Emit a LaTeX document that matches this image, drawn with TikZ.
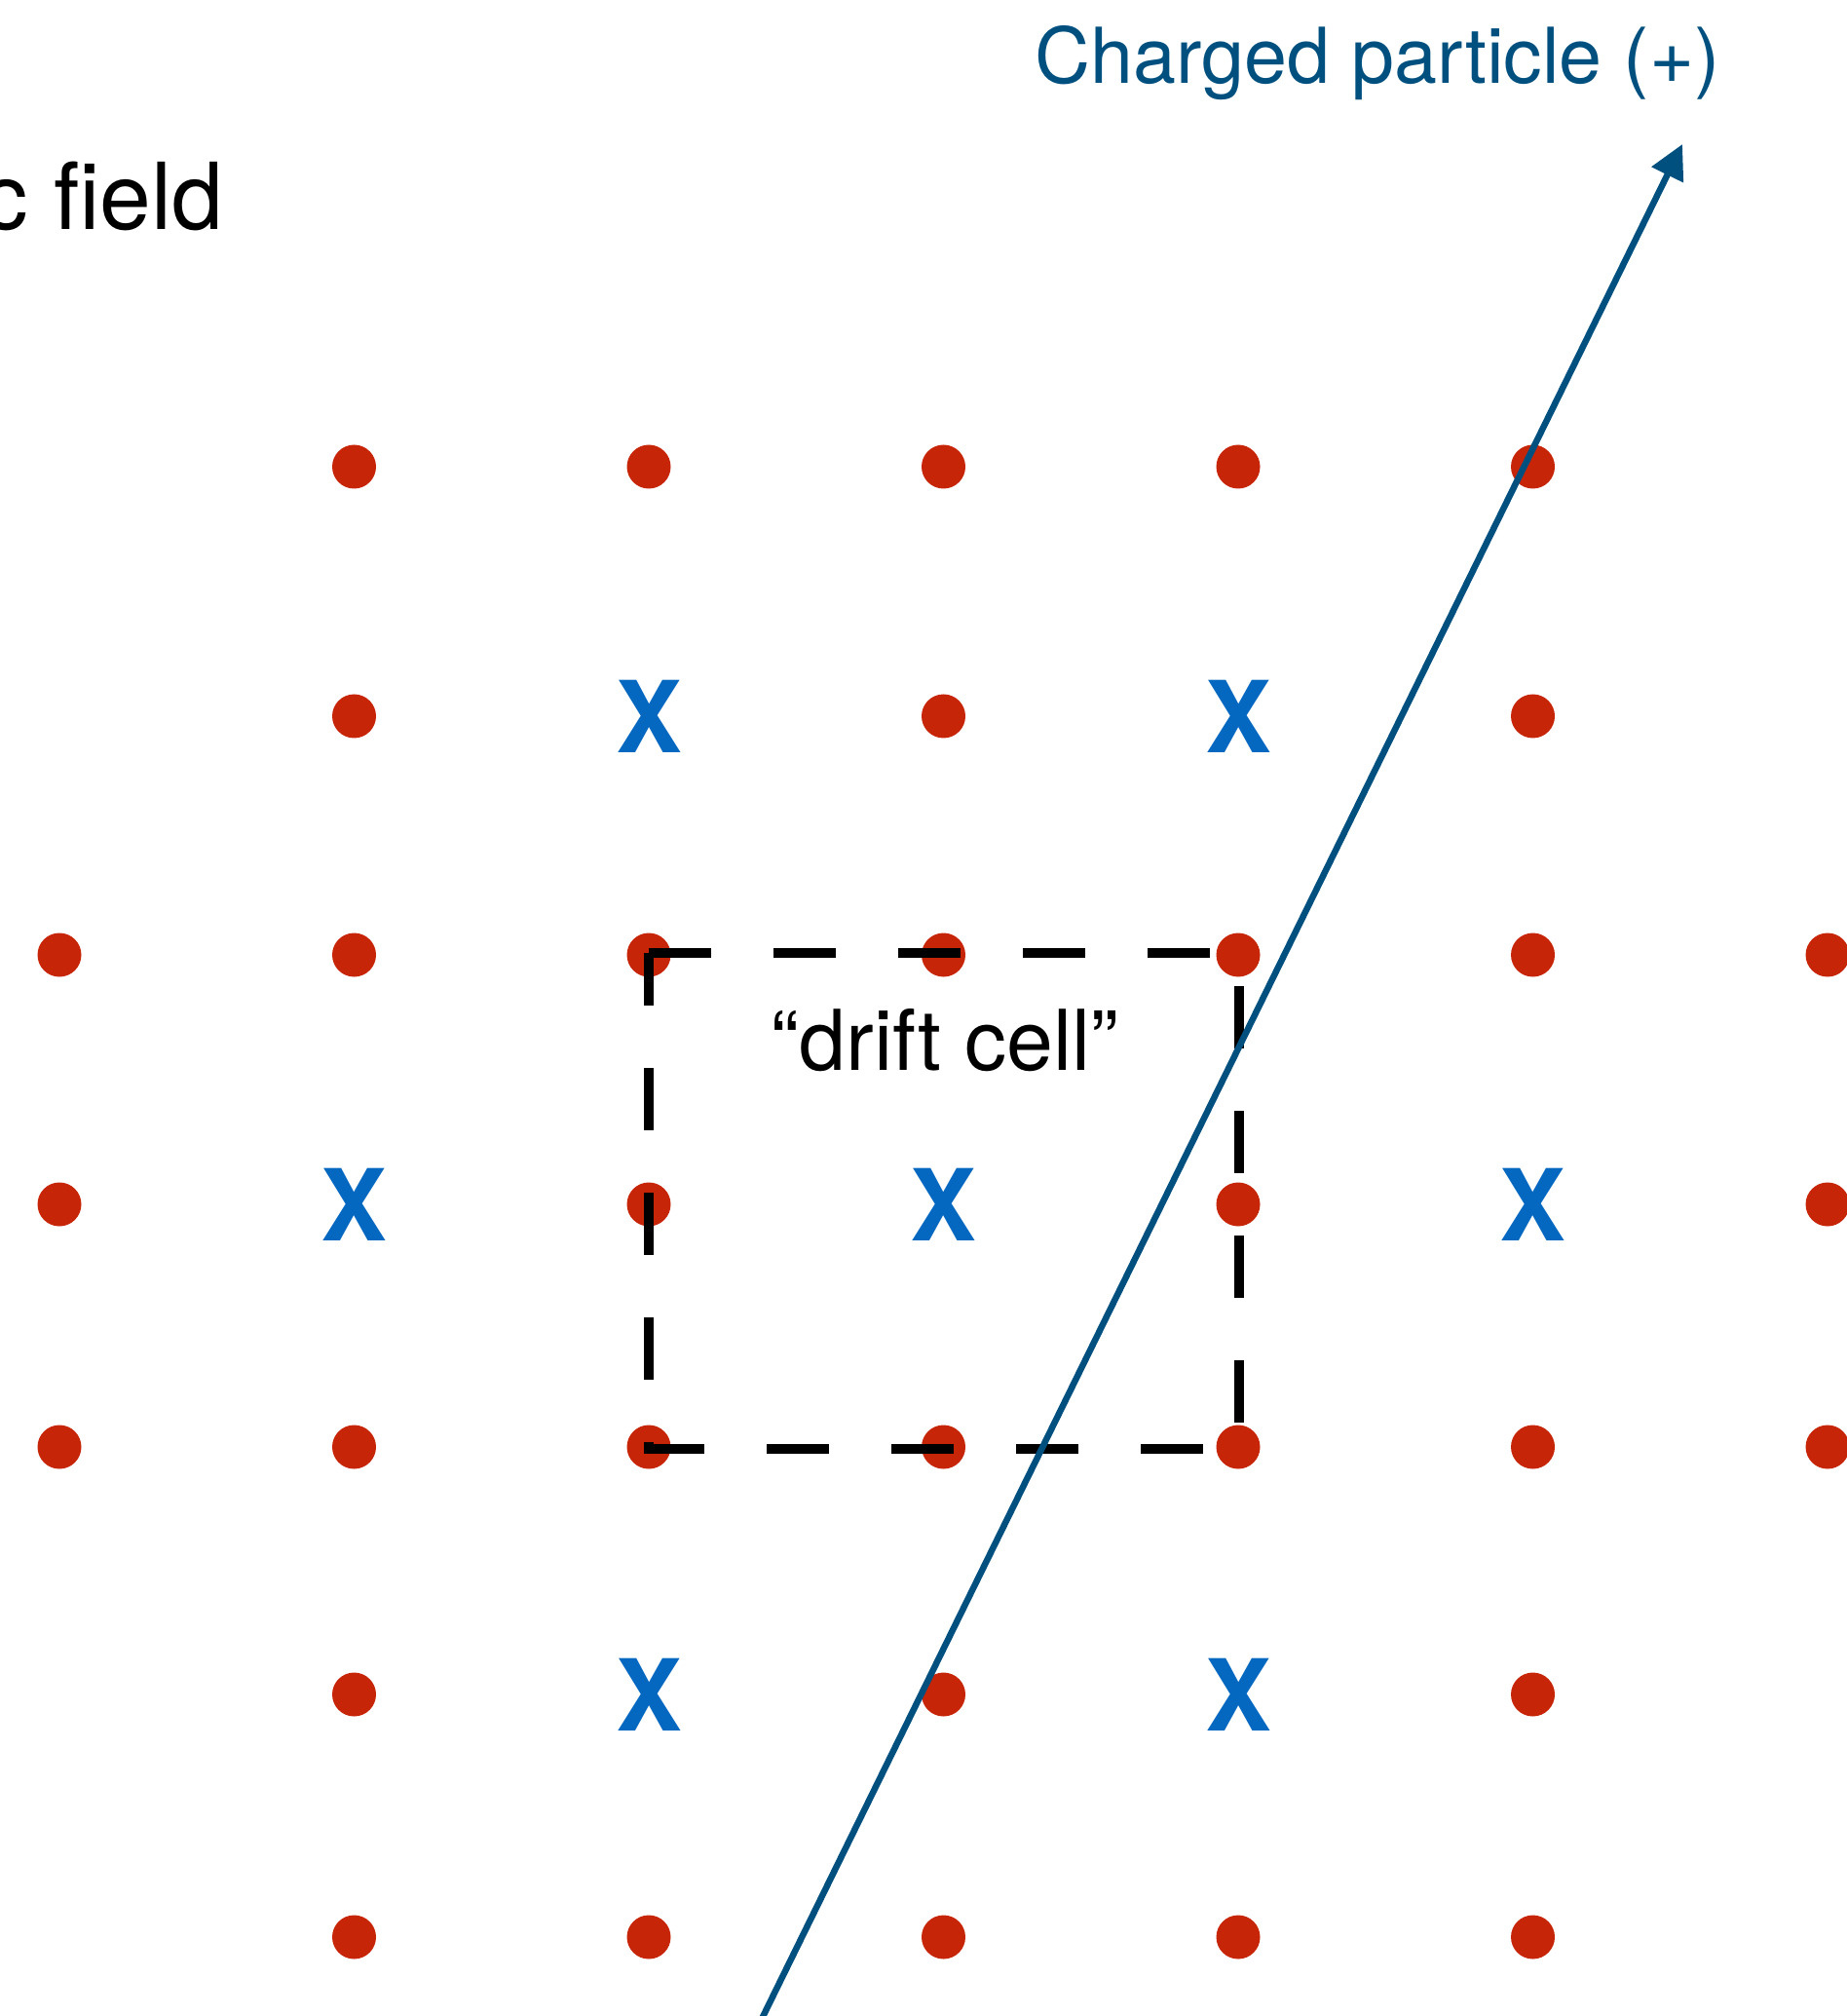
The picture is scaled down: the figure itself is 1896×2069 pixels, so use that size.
\documentclass[tikz,border=0pt]{standalone}
\usepackage{fontspec}
\setmainfont{TeX Gyre Heros}
\usepackage{xcolor}
\definecolor{cField}{HTML}{C62508}
\definecolor{cSense}{HTML}{0467C0}
\definecolor{cTrack}{HTML}{00507F}
\definecolor{cCell}{HTML}{000000}
\usepackage{tikz}
\usetikzlibrary{arrows.meta}
\tikzset{
  node-field/.style={circle,fill=cField,minimum size=4.5mm,inner sep=0pt},
  node-sense/.style={text=cSense,inner sep=0pt,
    font=\fontsize{29pt}{30pt}\selectfont\bfseries},
  node-label/.style={inner sep=0pt,font=\fontsize{27pt}{32pt}\selectfont},
  cell-border/.style={draw=cCell,line width=1mm,dash pattern=on 6.4mm off 6.4mm},
  arrow-track/.style={-{Triangle[length=3.5mm,width=3.5mm]},line width=0.65mm,draw=cTrack},
}

\begin{document}
\begin{tikzpicture}[x=0.1mm,y=-0.1mm]
  \useasboundingbox (0,0) rectangle (1896,2069);
  \clip (0,0) rectangle (1896,2069);
  % field wires (dots) and sense wires (X), row by row
  \foreach \j/\y/\cols in {0/479/{1,2,3,4,5}, 1/735/{1,3,5}, 2/980/{0,...,6},
                           3/1236/{0,2,4,6}, 4/1485/{0,...,6}, 5/1739/{1,3,5},
                           6/1988/{1,2,3,4,5}} {
    \foreach \i in \cols
      \node[node-field] (f-\i-\j) at ({61+302.5*\i},\y) {};
  }
  \foreach \i/\j/\y in {2/1/735, 4/1/735, 1/3/1236, 3/3/1236, 5/3/1236, 2/5/1739, 4/5/1739}
    \node[node-sense] (s-\i-\j) at ({61+302.5*\i},\y) {X};

  \node[node-label,anchor=base east] (field-label) at (230,236) {c field};

  \coordinate (cell-nw) at (666,978);
  \coordinate (cell-ne) at (1272,978);
  \coordinate (cell-se) at (1272,1487);
  \coordinate (cell-sw) at (666,1487);
  \draw[cell-border] (cell-nw) -- (cell-ne) -- (cell-se) -- (cell-sw) -- cycle;
  \node[node-label,font=\fontsize{24.5pt}{30pt}\selectfont,anchor=base]
    (cell-label) at (970,1098) {“drift cell”};

  \coordinate (track-start) at (778,2080);
  \coordinate (track-end) at (1727,148);
  \draw[arrow-track] (track-start) -- (track-end);
  \node[node-label,font=\fontsize{22.5pt}{27pt}\selectfont,text=cTrack,anchor=base west]
    (track-label) at (1062,86) {Charged particle (+)};
\end{tikzpicture}
\end{document}
